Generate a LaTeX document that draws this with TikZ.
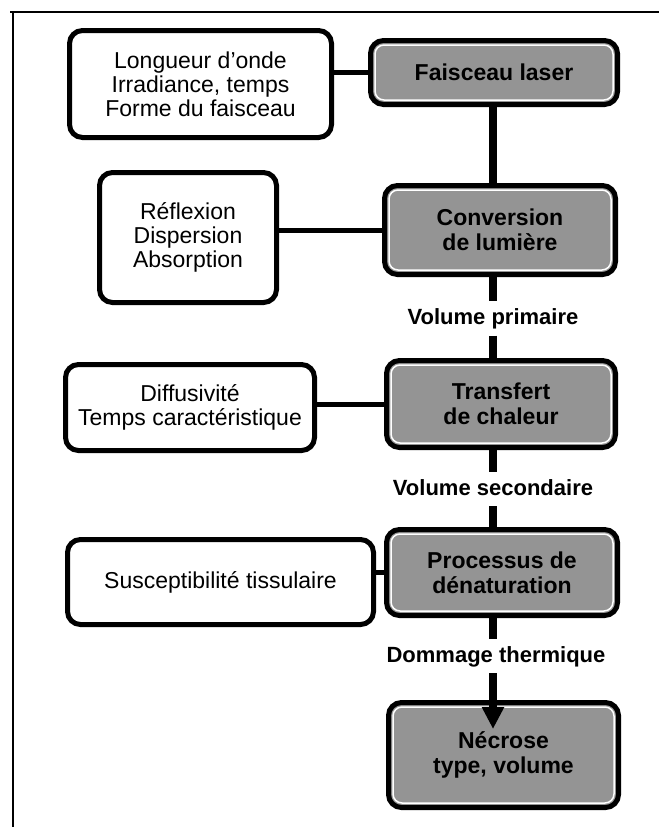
\documentclass[tikz,border=0pt]{standalone}
\usepackage{fontspec}
\setmainfont{Liberation Sans}
\usetikzlibrary{arrows.meta}
\begin{document}
\begin{tikzpicture}[x=1pt,y=-1pt,
  box/.style={draw=black, line width=5pt, rounded corners=13pt, fill=white,
    align=center, inner sep=0pt, font=\fontsize{23}{24}\selectfont},
  grbox/.style={box, fill=black!42, font=\fontsize{23}{25}\selectfont\bfseries,
    path picture={\draw[white, line width=1.5pt, rounded corners=9pt]
      ([shift={(4.5pt,-4.5pt)}]path picture bounding box.north west) rectangle
      ([shift={(-4.5pt,4.5pt)}]path picture bounding box.south east);}},
  lbl/.style={font=\fontsize{22}{24}\selectfont\bfseries, inner xsep=0pt,
    inner ysep=7pt, text height=16pt, text depth=4pt},
  link/.style={line width=5pt},
  vlink/.style={line width=8pt}]
\useasboundingbox (0,0) rectangle (659,827);
\fill[white] (0,0) rectangle (659,827);
% frame of the scanned page
\draw[line width=2.5pt] (10,12) -- (659,12);
\draw[line width=2pt] (13,12) -- (13,827);

\coordinate (spine) at (493,0);

% left boxes
\node[box, minimum width=262pt, minimum height=107pt] (b1) at (200.5,84)
  {Longueur d'onde\\Irradiance, temps\\Forme du faisceau};
\node[box, minimum width=177pt, minimum height=130pt] (b2) at (188,237.5)
  {Réflexion\\Dispersion\\Absorption};
\node[box, minimum width=249pt, minimum height=86pt] (b3) at (190,407.5)
  {Diffusivité\\Temps caractéristique};
\node[box, minimum width=306pt, minimum height=85pt] (b4) at (220.5,582)
  {Susceptibilité tissulaire};

% grey boxes
\node[grbox, minimum width=247pt, minimum height=64pt] (g1) at (494,72.5)
  {Faisceau laser};
\node[grbox, minimum width=231pt, minimum height=89pt] (g2) at (500,230)
  {Conversion\\de lumière};
\node[grbox, minimum width=229pt, minimum height=87pt] (g3) at (501,404)
  {Transfert\\de chaleur};
\node[grbox, minimum width=231pt, minimum height=86pt] (g4) at (502,572.5)
  {Processus de\\dénaturation};
\node[grbox, minimum width=230pt, minimum height=105pt] (g5) at (503.5,755)
  {Nécrose\\type, volume};

% labels
\node[lbl] (vp) at (493,318.5) {Volume primaire};
\node[lbl] (vs) at (493,489) {Volume secondaire};
\node[lbl] (dt) at (496,656) {Dommage thermique};

% horizontal links
\draw[link] (b1.east |- g1) -- (g1.west);
\draw[link] (b2.east |- g2) -- (g2.west);
\draw[link] (b3.east |- g3) -- (g3.west);
\draw[link] (b4.east |- g4) -- (g4.west);

% vertical links
\draw[vlink] (spine |- g1.south) -- (spine |- g2.north);
\draw[vlink] (spine |- g2.south) -- (spine |- vp.north);
\draw[vlink] (spine |- vp.south) -- (spine |- g3.north);
\draw[vlink] (spine |- g3.south) -- (spine |- vs.north);
\draw[vlink] (spine |- vs.south) -- (spine |- g4.north);
\draw[vlink] (spine |- g4.south) -- (spine |- dt.north);
\coordinate (tip) at (493,729);
\draw[vlink, -{Triangle[width=21pt,length=22pt]}] (spine |- dt.south) -- (tip);
\end{tikzpicture}
\end{document}
